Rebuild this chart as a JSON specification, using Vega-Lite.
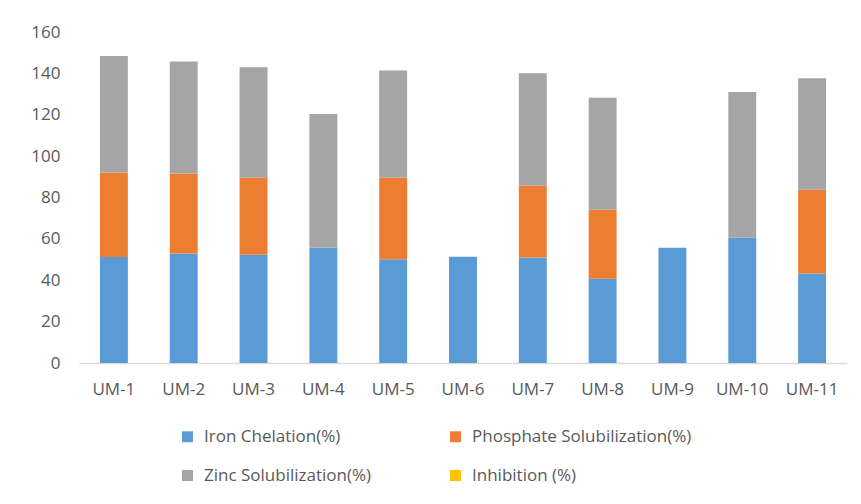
{
  "$schema": "https://vega.github.io/schema/vega-lite/v6.json",
  "width": 768,
  "height": 331,
  "autosize": {"type": "none"},
  "padding": {"left": 79, "top": 32, "right": 14, "bottom": 141},
  "background": "white",
  "config": {
    "font": "Open Sans",
    "view": {"stroke": null},
    "axis": {"labelFont": "Open Sans", "labelColor": "#595959", "labelFontSize": 17}
  },
  "data": {
    "values": [
      {"strain": "UM-1", "series": "Iron Chelation(%)", "value": 51.2},
      {"strain": "UM-1", "series": "Phosphate Solubilization(%)", "value": 40.9},
      {"strain": "UM-1", "series": "Zinc Solubilization(%)", "value": 56.3},
      {"strain": "UM-2", "series": "Iron Chelation(%)", "value": 52.9},
      {"strain": "UM-2", "series": "Phosphate Solubilization(%)", "value": 38.7},
      {"strain": "UM-2", "series": "Zinc Solubilization(%)", "value": 54.1},
      {"strain": "UM-3", "series": "Iron Chelation(%)", "value": 52.3},
      {"strain": "UM-3", "series": "Phosphate Solubilization(%)", "value": 37.2},
      {"strain": "UM-3", "series": "Zinc Solubilization(%)", "value": 53.5},
      {"strain": "UM-4", "series": "Iron Chelation(%)", "value": 55.7},
      {"strain": "UM-4", "series": "Zinc Solubilization(%)", "value": 64.7},
      {"strain": "UM-5", "series": "Iron Chelation(%)", "value": 50.2},
      {"strain": "UM-5", "series": "Phosphate Solubilization(%)", "value": 39.3},
      {"strain": "UM-5", "series": "Zinc Solubilization(%)", "value": 51.9},
      {"strain": "UM-6", "series": "Iron Chelation(%)", "value": 51.4},
      {"strain": "UM-7", "series": "Iron Chelation(%)", "value": 51.0},
      {"strain": "UM-7", "series": "Phosphate Solubilization(%)", "value": 34.8},
      {"strain": "UM-7", "series": "Zinc Solubilization(%)", "value": 54.3},
      {"strain": "UM-8", "series": "Iron Chelation(%)", "value": 40.7},
      {"strain": "UM-8", "series": "Phosphate Solubilization(%)", "value": 33.4},
      {"strain": "UM-8", "series": "Zinc Solubilization(%)", "value": 54.1},
      {"strain": "UM-9", "series": "Iron Chelation(%)", "value": 55.7},
      {"strain": "UM-10", "series": "Iron Chelation(%)", "value": 60.5},
      {"strain": "UM-10", "series": "Zinc Solubilization(%)", "value": 70.5},
      {"strain": "UM-11", "series": "Iron Chelation(%)", "value": 43.3},
      {"strain": "UM-11", "series": "Phosphate Solubilization(%)", "value": 40.4},
      {"strain": "UM-11", "series": "Zinc Solubilization(%)", "value": 54.0}
    ]
  },
  "mark": {"type": "bar"},
  "encoding": {
    "x": {
      "field": "strain",
      "type": "nominal",
      "sort": null,
      "scale": {"paddingInner": 0.6, "paddingOuter": 0.3},
      "axis": {
        "title": null,
        "labelAngle": 0,
        "ticks": false,
        "labelPadding": 18,
        "domainColor": "#d9d9d9",
        "domainWidth": 1.5
      }
    },
    "y": {
      "field": "value",
      "type": "quantitative",
      "stack": "zero",
      "scale": {"domain": [0, 160], "nice": false},
      "axis": {
        "title": null,
        "values": [0, 20, 40, 60, 80, 100, 120, 140, 160],
        "grid": false,
        "domain": false,
        "ticks": false,
        "labelPadding": 19
      }
    },
    "color": {
      "field": "series",
      "type": "nominal",
      "scale": {
        "domain": ["Iron Chelation(%)", "Phosphate Solubilization(%)", "Zinc Solubilization(%)", "Inhibition (%)"],
        "range": ["#5B9BD5", "#ED7D31", "#A5A5A5", "#FFC000"]
      },
      "legend": {
        "title": null,
        "orient": "none",
        "legendX": 100,
        "legendY": 396,
        "direction": "horizontal",
        "columns": 2,
        "symbolType": "square",
        "symbolSize": 120,
        "symbolStrokeWidth": 0,
        "labelFont": "Open Sans",
        "labelFontSize": 17,
        "labelColor": "#595959",
        "labelLimit": 400,
        "labelOffset": 8,
        "rowPadding": 21,
        "columnPadding": 75
      }
    },
    "order": {"field": "series", "sort": "ascending"}
  }
}
